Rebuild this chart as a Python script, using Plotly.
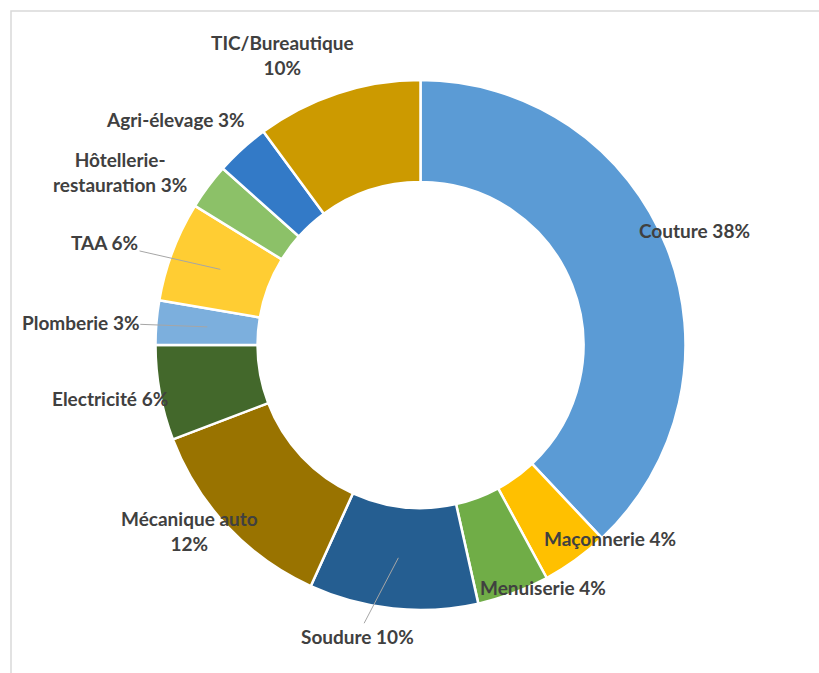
import math
import plotly.graph_objects as go

# ---- data (clockwise from 12 o'clock) ----
categories = ["Couture", "Maçonnerie", "Menuiserie", "Soudure", "Mécanique auto",
              "Electricité", "Plomberie", "TAA", "Hôtellerie-restauration",
              "Agri-élevage", "TIC/Bureautique"]
values = [38.0, 4.1, 4.4, 10.3, 12.4, 5.8, 2.7, 6.1, 2.8, 3.3, 10.1]
pct_labels = ["38%", "4%", "4%", "10%", "12%", "6%", "3%", "6%", "3%", "3%", "10%"]
display_names = ["Couture", "Maçonnerie", "Menuiserie", "Soudure", "Mécanique auto<br>",
                 "Electricité", "Plomberie", "TAA", "Hôtellerie-<br>restauration",
                 "Agri-élevage", "TIC/Bureautique<br>"]
colors = ["#5B9BD5", "#FFC000", "#70AD47", "#255E91", "#997300", "#43682B",
          "#7CAFDD", "#FFCD33", "#8CC168", "#337AC7", "#CC9A00"]

# ---- label layout (style): angle offset from slice middle (deg), radius (px) ----
label_dtheta = [-1.0, -8.5, -6.3, 6.3, 4.4, 0.7, -1.0, -2.8, -6.8, -5.0, -7.3]
label_radius = [297, 271, 272, 298, 297, 315, 341, 332, 347, 333, 321]
has_leader = [False, False, False, True, False, False, True, True, False, False, False]

W, H = 819, 673
cx, cy, R = 420.5, 345.0, 265.0
hole = 0.615

fig = go.Figure(go.Pie(
    labels=categories, values=values, sort=False, direction="clockwise",
    rotation=0, hole=hole, textinfo="none", hoverinfo="label+percent",
    marker=dict(colors=colors, line=dict(color="white", width=2.5)),
    domain=dict(x=[(cx - R) / W, (cx + R) / W], y=[1 - (cy + R) / H, 1 - (cy - R) / H]),
    showlegend=False,
))

total = sum(values)
cum = 0.0
annotations = []
for i, v in enumerate(values):
    mid = (cum + v / 2) / total * 360.0
    cum += v
    th = math.radians(mid + label_dtheta[i])
    lx = cx + label_radius[i] * math.sin(th)
    ly = cy - label_radius[i] * math.cos(th)
    text = f"{display_names[i]}{'' if display_names[i].endswith('<br>') else ' '}{pct_labels[i]}"
    font = dict(family="Lato, Carlito, Calibri, sans-serif", size=19, color="#404040", weight="bold")
    if has_leader[i]:
        tm = math.radians(mid)
        rm = R * (1 + hole) / 2
        px = cx + rm * math.sin(tm)
        py = cy - rm * math.cos(tm)
        annotations.append(dict(
            x=px / W, y=1 - py / H, xref="paper", yref="paper",
            ax=lx - px, ay=ly - py, axref="pixel", ayref="pixel",
            text=text, showarrow=True, arrowhead=0, arrowwidth=1,
            arrowcolor="#A6A6A6", font=font, align="center"))
    else:
        annotations.append(dict(
            x=lx / W, y=1 - ly / H, xref="paper", yref="paper",
            text=text, showarrow=False, xanchor="center", yanchor="middle",
            font=font, align="center"))

fig.update_layout(
    width=W, height=H, margin=dict(l=0, r=0, t=0, b=0),
    paper_bgcolor="white", plot_bgcolor="white",
    annotations=annotations,
    shapes=[dict(type="rect", xref="paper", yref="paper",
                 x0=11 / W, x1=1.05, y0=-0.05, y1=1 - 11 / H,
                 line=dict(color="#D9D9D9", width=1.5), layer="below")],
)

fig.write_html("out.html", config={"displayModeBar": False},
               post_script="document.body.style.margin='0';document.body.style.overflow='hidden';")
